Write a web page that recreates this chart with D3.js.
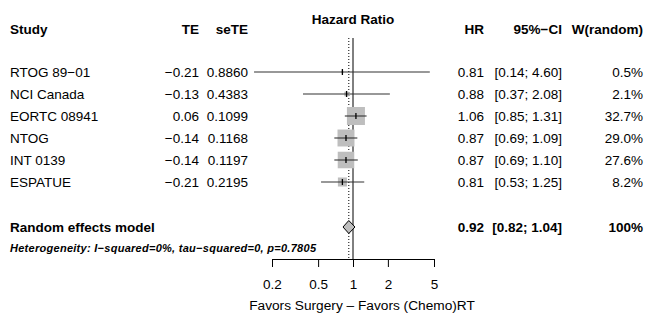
<!DOCTYPE html>
<html>
<head>
<meta charset="utf-8">
<script src="https://cdn.jsdelivr.net/npm/d3@7"></script>
<style>
  html, body { margin: 0; padding: 0; background: #fff; }
  svg { display: block; font-family: "Liberation Sans", Arial, Helvetica, sans-serif; }
</style>
</head>
<body>
<div class="container"></div>
<script>
// Study-level data
const studies = ["RTOG 89\u221201", "NCI Canada", "EORTC 08941", "NTOG", "INT 0139", "ESPATUE"];
const teValues = ["\u22120.21", "\u22120.13", "0.06", "\u22120.14", "\u22120.14", "\u22120.21"];
const seTEValues = ["0.8860", "0.4383", "0.1099", "0.1168", "0.1197", "0.2195"];
const hr = [0.81, 0.88, 1.06, 0.87, 0.87, 0.81];
const lower = [0.14, 0.37, 0.85, 0.69, 0.69, 0.53];
const upper = [4.60, 2.08, 1.31, 1.09, 1.10, 1.25];
const weights = [0.5, 2.1, 32.7, 29.0, 27.6, 8.2];

// Pooled (random effects) estimate
const pooledHR = 0.92;
const pooledLower = 0.82;
const pooledUpper = 1.04;

const axisTicks = [0.2, 0.5, 1, 2, 5];
const heterogeneityText = "Heterogeneity: I\u2212squared=0%, tau\u2212squared=0, p=0.7805";

const width = 650;
const height = 326;

const svg = d3.select(".container")
    .append("svg")
    .attr("width", width)
    .attr("height", height);

svg.append("rect").attr("width", width).attr("height", height).attr("fill", "#fff");

// Log scale for the hazard ratio; not clamped so wide CIs run past the axis.
const x = d3.scaleLog().domain([0.2, 5]).range([272, 434]);

// Row positions
const rowY = i => 72 + i * 22;
const pooledY = rowY(7) + 1;
const hetY = rowY(8);
const axisY = 259;
const plotTop = 38;

const fs = 13.5;
const cols = { study: 10, te: 199, sete: 248, hr: 484, ci: 562, w: 643 };

// Header
const header = svg.append("g").attr("font-weight", "bold").attr("font-size", fs);
header.append("text").attr("x", cols.study).attr("y", 33.5).text("Study");
header.append("text").attr("x", cols.te).attr("y", 33.5).attr("text-anchor", "end").text("TE");
header.append("text").attr("x", cols.sete).attr("y", 33.5).attr("text-anchor", "end").text("seTE");
header.append("text").attr("x", x(1)).attr("y", 24).attr("text-anchor", "middle").text("Hazard Ratio");
header.append("text").attr("x", cols.hr).attr("y", 33.5).attr("text-anchor", "end").text("HR");
header.append("text").attr("x", cols.ci).attr("y", 33.5).attr("text-anchor", "end").text("95%\u2212CI");
header.append("text").attr("x", cols.w).attr("y", 33.5).attr("text-anchor", "end").text("W(random)");

// Reference lines: no effect (solid) and pooled estimate (dotted)
svg.append("line")
    .attr("x1", x(1)).attr("x2", x(1))
    .attr("y1", plotTop).attr("y2", axisY)
    .attr("stroke", "#000").attr("stroke-width", 1);
svg.append("line")
    .attr("x1", x(pooledHR)).attr("x2", x(pooledHR))
    .attr("y1", plotTop).attr("y2", axisY)
    .attr("stroke", "#000").attr("stroke-width", 1)
    .attr("stroke-dasharray", "1,2");

const rows = studies.map((s, i) => ({
    study: s, te: teValues[i], sete: seTEValues[i],
    hr: hr[i], lo: lower[i], hi: upper[i], w: weights[i], i
}));

const fmt2 = d3.format(".2f");

// Text columns
const txt = svg.append("g").attr("font-size", fs);
const rowG = txt.selectAll("g").data(rows).enter().append("g")
    .attr("transform", d => `translate(0,${rowY(d.i) + 4.8})`);
rowG.append("text").attr("x", cols.study).text(d => d.study);
rowG.append("text").attr("x", cols.te).attr("text-anchor", "end").text(d => d.te);
rowG.append("text").attr("x", cols.sete).attr("text-anchor", "end").text(d => d.sete);
rowG.append("text").attr("x", cols.hr).attr("text-anchor", "end").text(d => fmt2(d.hr));
rowG.append("text").attr("x", cols.ci).attr("text-anchor", "end")
    .text(d => `[${fmt2(d.lo)}; ${fmt2(d.hi)}]`);
rowG.append("text").attr("x", cols.w).attr("text-anchor", "end").text(d => d.w.toFixed(1) + "%");

// Squares (area proportional to weight), CI lines and estimate ticks
const sq = svg.append("g");
const side = d => 3.15 * Math.sqrt(d.w);
sq.selectAll("rect").data(rows).enter().append("rect")
    .attr("x", d => x(d.hr) - side(d) / 2)
    .attr("y", d => rowY(d.i) - side(d) / 2)
    .attr("width", side).attr("height", side)
    .attr("fill", "#bebebe");
sq.selectAll("line.ci").data(rows).enter().append("line")
    .attr("class", "ci")
    .attr("x1", d => x(d.lo)).attr("x2", d => x(d.hi))
    .attr("y1", d => rowY(d.i)).attr("y2", d => rowY(d.i))
    .attr("stroke", "#333").attr("stroke-width", 1.1);
sq.selectAll("line.est").data(rows).enter().append("line")
    .attr("class", "est")
    .attr("x1", d => x(d.hr)).attr("x2", d => x(d.hr))
    .attr("y1", d => rowY(d.i) - 3).attr("y2", d => rowY(d.i) + 3)
    .attr("stroke", "#000").attr("stroke-width", 1.3);

// Pooled row
const pooled = svg.append("g").attr("font-size", fs).attr("font-weight", "bold");
pooled.append("text").attr("x", cols.study).attr("y", pooledY + 4.8).text("Random effects model");
pooled.append("text").attr("x", cols.hr).attr("y", pooledY + 4.8).attr("text-anchor", "end").text(fmt2(pooledHR));
pooled.append("text").attr("x", cols.ci).attr("y", pooledY + 4.8).attr("text-anchor", "end")
    .text(`[${fmt2(pooledLower)}; ${fmt2(pooledUpper)}]`);
pooled.append("text").attr("x", cols.w).attr("y", pooledY + 4.8).attr("text-anchor", "end").text("100%");

const dh = 6.5;
svg.append("path")
    .attr("d", `M${x(pooledLower)},${pooledY} L${x(pooledHR)},${pooledY - dh} L${x(pooledUpper)},${pooledY} L${x(pooledHR)},${pooledY + dh} Z`)
    .attr("fill", "#bebebe").attr("stroke", "#000").attr("stroke-width", 1);

svg.append("text")
    .attr("x", cols.study).attr("y", hetY + 4)
    .attr("font-size", 11).attr("font-weight", "bold").attr("font-style", "italic")
    .attr("textLength", 306).attr("lengthAdjust", "spacing")
    .text(heterogeneityText);

// Axis
const axis = d3.axisBottom(x)
    .tickValues(axisTicks)
    .tickFormat(d => String(d))
    .tickSize(8)
    .tickSizeOuter(0)
    .tickPadding(12);
const ax = svg.append("g")
    .attr("transform", `translate(0,${axisY})`)
    .call(axis);
ax.select(".domain").attr("stroke", "#000");
ax.selectAll(".tick line").attr("stroke", "#000");
ax.selectAll(".tick text").attr("font-size", fs).attr("font-family", "Liberation Sans, Arial, sans-serif").attr("fill", "#000");

svg.append("text")
    .attr("x", 362).attr("y", 310)
    .attr("text-anchor", "middle").attr("font-size", 13.7)
    .text("Favors Surgery \u2013 Favors (Chemo)RT");
</script>
</body>
</html>
